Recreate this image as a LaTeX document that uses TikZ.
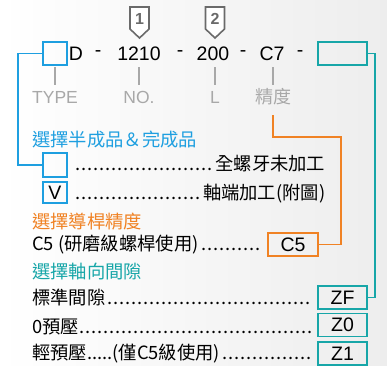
\documentclass[tikz,border=0pt]{standalone}
\usepackage{fontspec}
\setmainfont{Liberation Sans}
\newfontfamily\cjk{Noto Sans CJK TC}
\definecolor{cblue}{HTML}{1E9FE0}
\definecolor{cteal}{HTML}{17A6A8}
\definecolor{corange}{HTML}{F08224}
\definecolor{clabel}{HTML}{A8A8A8}
\definecolor{cmark}{HTML}{6A6A6A}
\newcommand\dotrun{\cleaders\hbox to 6pt{\hss.\hss}\hfill}
\tikzset{
  big/.style={inner sep=0pt, font=\fontsize{19.5}{21}\selectfont},
  lab/.style={inner sep=0pt, text=clabel, font=\fontsize{17.5}{19}\selectfont},
  rowtxt/.style={inner sep=0pt, anchor=base west, font=\cjk\fontsize{18.3}{20}\selectfont},
  head/.style={inner sep=0pt, anchor=base west, font=\cjk\fontsize{18.3}{20}\selectfont},
  bx/.style={draw, line width=1.6pt, inner sep=0pt, font=\fontsize{19.5}{21}\selectfont},
  tick/.style={clabel, line width=1.2pt},
  conn/.style={line width=1.6pt},
  marker/.style={draw=cmark, line width=1.6pt, fill=white, line join=miter}
}
\begin{document}
\begin{tikzpicture}[x=1pt,y=-1pt]
\shade[left color=white, right color=black!7] (0,0) rectangle (387,365);
\useasboundingbox (0,0) rectangle (387,365);
% markers
\draw[marker] (130,7) -- (149,7) -- (149,29) -- (139.5,38) -- (130,29) -- cycle;
\node[inner sep=0pt, text=cmark, font=\bfseries\fontsize{16}{17}\selectfont] (m1) at (139.5,19) {1};
\draw[marker] (205.5,7) -- (224.5,7) -- (224.5,29) -- (215,38) -- (205.5,29) -- cycle;
\node[inner sep=0pt, text=cmark, font=\bfseries\fontsize{16}{17}\selectfont] (m2) at (215,19) {2};
% top row
\node[bx, draw=cblue, minimum width=24pt, minimum height=23pt] (tb) at (55,53.5) {};
\node[big] (tD) at (76,54) {D};
\node[big] (td1) at (98,54) {-};
\node[big] (t1210) at (139,54) {1210};
\node[big] (td2) at (180,54) {-};
\node[big] (t200) at (213,54) {200};
\node[big] (td3) at (243,54) {-};
\node[big] (tC7) at (272,54) {C7};
\node[big] (td4) at (300,54) {-};
\node[bx, draw=cteal, minimum width=49pt, minimum height=23pt] (tt) at (342.5,53.5) {};
% ticks and labels
\draw[tick] (55,67) -- (55,85);
\draw[tick] (139,67) -- (139,85);
\draw[tick] (215,67) -- (215,85);
\draw[tick] (273,67) -- (273,85);
\node[lab] (lT) at (55,97) {TYPE};
\node[lab] (lN) at (139,97) {NO.};
\node[lab] (lL) at (215,97) {L};
\node[lab, font=\cjk\fontsize{18}{19}\selectfont] (lP) at (273,97) {精度};
\coordinate (pj) at (273,115);
% section 1
\node[head, text=cblue] (h1) at (32,146.5) {選擇半成品＆完成品};
\node[bx, draw=cblue, minimum width=24pt, minimum height=24pt] (b1) at (55,165) {};
\node[rowtxt] (r1) at (72,170) {\makebox[253pt][l]{\dotrun 全螺牙未加工}};
\node[bx, draw=cblue, minimum width=24pt, minimum height=21pt] (b2) at (55,192.5) {V};
\node[rowtxt] (r2) at (72,199) {\makebox[253pt][l]{\dotrun 軸端加工(附圖)}};
% section 2
\node[head, text=corange] (h2) at (32,228.5) {選擇導桿精度};
\node[rowtxt] (r3) at (32,250.5) {\makebox[231pt][l]{C5 (研磨級螺桿使用)\dotrun}};
\node[bx, draw=corange, minimum width=50pt, minimum height=23pt] (bC5) at (293,244.5) {C5};
% section 3
\node[head, text=cteal] (h3) at (32,278.5) {選擇軸向間隙};
\node[rowtxt] (r4) at (32,304.5) {\makebox[281pt][l]{標準間隙\dotrun}};
\node[rowtxt] (r5) at (32,333) {\makebox[281pt][l]{0預壓\dotrun}};
\node[rowtxt] (r6) at (32,359.5) {\makebox[281pt][l]{輕預壓.....(僅C5級使用)\dotrun}};
\node[bx, draw=cteal, minimum width=49pt, minimum height=23pt] (bZF) at (342.5,297.5) {ZF};
\node[bx, draw=cteal, minimum width=49pt, minimum height=23pt] (bZ0) at (342.5,325) {Z0};
\node[bx, draw=cteal, minimum width=49pt, minimum height=23pt] (bZ1) at (342.5,353.5) {Z1};
% connectors
\draw[conn, cblue] (tb.west) -- (18,53.5) -- (18,165) -- (b1.west);
\draw[conn, corange] (pj) -- (273,137) -- (341,137) -- (341,|-bC5.east) -- (bC5.east);
\draw[conn, cteal] (tt.east) -- (375,53.5) -- (375,297.5) -- (bZF.east);
\end{tikzpicture}
\end{document}
